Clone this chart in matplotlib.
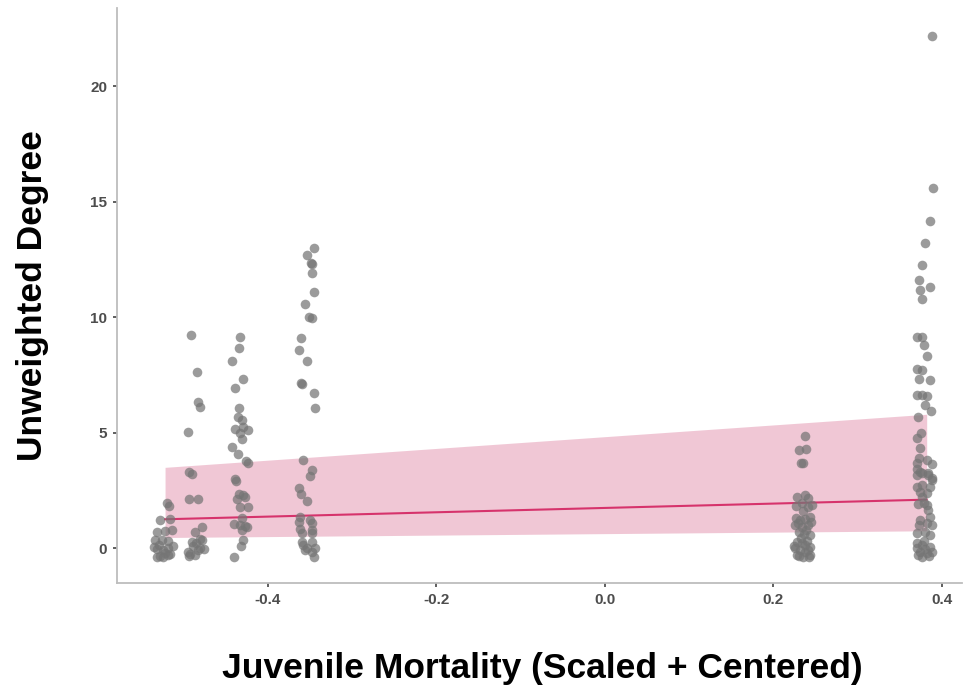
import matplotlib
matplotlib.use("Agg")
import matplotlib.pyplot as plt
import numpy as np

plt.rcParams['font.family'] = ['Liberation Sans', 'DejaVu Sans']

# Jittered observations: juvenile mortality (scaled + centered) vs. unweighted degree
mort_a = [-0.520, -0.517, -0.528, -0.516, -0.532, -0.522, -0.514, -0.534, -0.526, -0.519, -0.531,
          -0.525, -0.519, -0.516, -0.532, -0.528, -0.522, -0.535, -0.518, -0.529, -0.524, -0.513]
deg_a = [1.94, 1.81, 1.21, 1.25, 0.69, 0.74, 0.78, 0.35, 0.35, 0.30, -0.05,
         -0.09, 0.02, -0.25, -0.39, -0.35, -0.20, 0.05, -0.30, 0.15, -0.38, 0.10]

mort_b = [-0.491, -0.484, -0.483, -0.480, -0.495, -0.493, -0.490, -0.494, -0.483, -0.478, -0.486,
          -0.490, -0.478, -0.485, -0.495, -0.481, -0.487, -0.494, -0.483, -0.489, -0.476, -0.492, -0.480]
deg_b = [9.24, 7.62, 6.35, 6.10, 5.01, 3.28, 3.20, 2.12, 2.12, 0.91, 0.69,
         0.26, 0.35, 0.20, -0.17, 0.00, -0.30, -0.35, -0.10, 0.10, -0.05, -0.25, 0.40]

mort_c = [-0.433, -0.434, -0.442, -0.430, -0.439, -0.434, -0.436, -0.431, -0.439, -0.430, -0.423,
          -0.433, -0.431, -0.442, -0.436, -0.426, -0.423, -0.439, -0.438, -0.434, -0.430, -0.437,
          -0.427, -0.433, -0.423, -0.431, -0.440, -0.433, -0.425, -0.431, -0.427, -0.430, -0.432, -0.440]
deg_c = [9.13, 8.65, 8.12, 7.34, 6.95, 6.09, 5.70, 5.57, 5.18, 5.23, 5.10,
         4.97, 4.71, 4.36, 4.06, 3.76, 3.67, 2.98, 2.89, 2.33, 2.29, 2.12,
         2.20, 1.77, 1.77, 1.30, 1.04, 0.99, 0.91, 0.78, 0.95, 0.35, 0.09, -0.39]

mort_d = [-0.345, -0.354, -0.349, -0.347, -0.348, -0.345, -0.356, -0.351, -0.347, -0.361, -0.363,
          -0.354, -0.361, -0.360, -0.345, -0.344, -0.358, -0.348, -0.350, -0.363, -0.361, -0.354,
          -0.362, -0.350, -0.347, -0.363, -0.362, -0.348, -0.360, -0.347, -0.347, -0.360, -0.358,
          -0.353, -0.348, -0.345, -0.344, -0.356]
deg_d = [13.00, 12.70, 12.35, 12.30, 11.90, 11.10, 10.58, 10.02, 9.98, 9.11, 8.60,
         8.12, 7.17, 7.13, 6.70, 6.05, 3.80, 3.37, 3.11, 2.59, 2.33, 2.03,
         1.34, 1.21, 1.08, 1.12, 0.82, 0.78, 0.65, 0.65, 0.26, 0.26, 0.13,
         0.00, -0.17, -0.39, 0.00, -0.09]

mort_e = [0.237, 0.230, 0.239, 0.233, 0.235, 0.228, 0.238, 0.241, 0.234, 0.227, 0.241,
          0.235, 0.246, 0.243, 0.227, 0.232, 0.238, 0.226, 0.234, 0.241, 0.239, 0.230,
          0.244, 0.236, 0.228, 0.234, 0.240, 0.226, 0.244, 0.232, 0.238, 0.228, 0.244,
          0.235, 0.231, 0.241, 0.225, 0.238, 0.229, 0.245, 0.233, 0.242]
deg_e = [4.84, 4.23, 4.28, 3.67, 3.67, 2.20, 2.29, 2.16, 1.94, 1.81, 1.77,
         1.60, 1.85, 1.34, 1.30, 1.21, 1.25, 0.99, 0.91, 1.02, 0.78, 0.69,
         0.56, 0.60, 0.26, 0.22, 0.30, 0.00, 0.04, -0.09, -0.17, -0.30, -0.30,
         -0.39, -0.35, -0.10, 0.10, 0.15, 1.10, 1.15, 0.45, -0.40]

mort_f = [0.388, 0.389, 0.386, 0.380, 0.376, 0.373, 0.374, 0.386, 0.376, 0.370, 0.376,
          0.379, 0.382, 0.370, 0.376, 0.373, 0.386, 0.370, 0.377, 0.382, 0.380, 0.387,
          0.372, 0.375, 0.370, 0.374, 0.373, 0.370, 0.382, 0.388,
          0.370, 0.374, 0.383, 0.388, 0.370, 0.376, 0.383, 0.388, 0.370, 0.377, 0.386,
          0.374, 0.382, 0.376, 0.372, 0.382, 0.383, 0.386, 0.374, 0.382, 0.388, 0.370,
          0.380, 0.386, 0.370, 0.377, 0.386, 0.374, 0.382, 0.388, 0.377, 0.370, 0.380,
          0.372, 0.385, 0.379, 0.373, 0.379]
deg_f = [22.20, 15.59, 14.17, 13.22, 12.27, 11.62, 11.19, 11.32, 10.80, 9.16, 9.16,
         8.81, 8.34, 7.78, 7.73, 7.34, 7.30, 6.65, 6.65, 6.57, 6.18, 5.92,
         5.70, 4.97, 4.79, 4.32, 3.89, 3.67, 3.80, 3.63,
         3.41, 3.28, 3.24, 3.02, 3.15, 3.24, 3.15, 2.94, 2.63, 2.72, 2.63,
         2.42, 2.38, 2.20, 1.90, 1.86, 1.64, 1.34, 1.21, 1.08, 0.99, 0.65,
         0.69, 0.56, 0.22, 0.13, 0.04, -0.17, -0.22, -0.17, -0.39, 0.00, -0.05,
         -0.30, -0.35, 0.30, 1.00, 1.95]

# Model fit with confidence band
fit_x = [-0.522, 0.382]
fit_y = [1.25, 2.10]
fit_lo = [0.46, 0.75]
fit_hi = [3.50, 5.80]

x_ticks = [-0.4, -0.2, 0.0, 0.2, 0.4]
x_tick_labels = ["-0.4", "-0.2", "0.0", "0.2", "0.4"]
y_ticks = [0, 5, 10, 15, 20]

fig = plt.figure(figsize=(9.64, 6.96), dpi=100)
ax = fig.add_axes([0.1214, 0.1624, 0.8766, 0.8261])

ax.fill_between(fit_x, fit_lo, fit_hi, color="#e7a3ba", alpha=0.6, linewidth=0, zorder=1)
ax.plot(fit_x, fit_y, color="#d6336c", linewidth=1.5, zorder=2)

mort = mort_a + mort_b + mort_c + mort_d + mort_e + mort_f
deg = deg_a + deg_b + deg_c + deg_d + deg_e + deg_f
ax.scatter(mort, deg, s=48, color="#757575", alpha=0.72, linewidths=0, zorder=3)

ax.set_xlim(-0.579, 0.424)
ax.set_ylim(-1.51, 23.4)
ax.set_xticks(x_ticks)
ax.set_xticklabels(x_tick_labels)
ax.set_yticks(y_ticks)

for side in ("top", "right"):
    ax.spines[side].set_visible(False)
for side in ("left", "bottom"):
    ax.spines[side].set_color("#bdbdbd")
    ax.spines[side].set_linewidth(1.3)

ax.tick_params(axis="both", length=3, width=1.1, color="#333333", pad=4,
               labelsize=11, labelcolor="#4d4d4d")
for lab in ax.get_xticklabels() + ax.get_yticklabels():
    lab.set_fontweight("bold")

ax.set_xlabel("Juvenile Mortality (Scaled + Centered)", fontsize=25.5, fontweight="bold", color="black")
ax.set_ylabel("Unweighted Degree", fontsize=25.5, fontweight="bold", color="black")
ax.xaxis.label.set_va("center")
ax.xaxis.set_label_coords(0.503, -0.148)
ax.yaxis.label.set_va("center")
ax.yaxis.set_label_coords(-0.100, 0.50)

fig.savefig("out.png", dpi=100)
